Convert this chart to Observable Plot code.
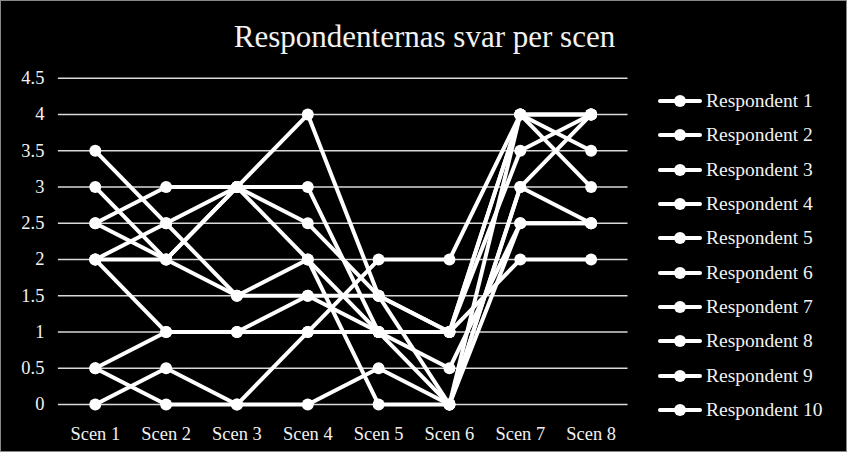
<!DOCTYPE html>
<html>
<head>
<meta charset="utf-8">
<script src="https://cdn.jsdelivr.net/npm/d3@7"></script>
<script src="https://cdn.jsdelivr.net/npm/@observablehq/plot@0.6"></script>
<style>
  html, body { margin: 0; padding: 0; background: #000; }
  #wrap { position: relative; width: 847px; height: 452px; background: #000; box-sizing: border-box; border: 1px solid #888; overflow: hidden; font-family: "Liberation Serif", "DejaVu Serif", serif; color: #fff; }
  #title { position: absolute; left: 0; width: 847px; top: 18px; text-align: center; font-size: 31px; color: #f2f2f2; }
  #legend { position: absolute; left: 657px; top: 83px; }
  .item { height: 34.3px; display: flex; align-items: center; font-size: 19.5px; color: #f2f2f2; }
  .item svg { margin-right: 4px; }
  #chart { position: absolute; left: 0; top: 0; }
</style>
</head>
<body>
<div id="wrap">
  <div id="chart"></div>
  <div id="title">Respondenternas svar per scen</div>
  <div id="legend"></div>
</div>
<script>
const scenes = ["Scen 1", "Scen 2", "Scen 3", "Scen 4", "Scen 5", "Scen 6", "Scen 7", "Scen 8"];
const respondents = ["Respondent 1", "Respondent 2", "Respondent 3", "Respondent 4", "Respondent 5",
                     "Respondent 6", "Respondent 7", "Respondent 8", "Respondent 9", "Respondent 10"];
const yTicks = [0, 0.5, 1, 1.5, 2, 2.5, 3, 3.5, 4, 4.5];

const r1  = [3.5, 2.5, 1.5, 2,   1,   0.5, 2.5, 2.5];
const r2  = [3,   2,   3,   2.5, 1.5, 1,   4,   4  ];
const r3  = [2.5, 3,   3,   4,   1.5, 0,   3,   4  ];
const r4  = [2.5, 2,   1.5, 1.5, 1.5, 1,   3.5, 4  ];
const r5  = [2,   2.5, 3,   3,   1,   0,   3,   2.5];
const r6  = [2,   1,   1,   1.5, 1,   1,   2,   2  ];
const r7  = [2,   2,   3,   2,   0,   0,   2.5, 2.5];
const r8  = [0.5, 1,   1,   1,   2,   2,   4,   4  ];
const r9  = [0.5, 0,   0,   1,   1,   1,   4,   3.5];
const r10 = [0,   0.5, 0,   0,   0.5, 0,   4,   3  ];
const series = [r1, r2, r3, r4, r5, r6, r7, r8, r9, r10];

const data = [];
series.forEach((vals, i) => vals.forEach((v, j) => data.push({respondent: respondents[i], scene: scenes[j], value: v})));

const chart = Plot.plot({
  width: 847,
  height: 452,
  marginTop: 77,
  marginBottom: 48,
  marginLeft: 57,
  marginRight: 219,
  style: { background: "transparent", color: "#f2f2f2", fontFamily: "'Liberation Serif', 'DejaVu Serif', serif", fontSize: "18.5px" },
  x: { type: "point", domain: scenes, padding: 0.5, label: null, tickSize: 0, tickPadding: 22 },
  y: { domain: [0, 4.5], ticks: yTicks, tickFormat: d => String(d), label: null, tickSize: 0, tickPadding: 14 },
  marks: [
    Plot.ruleY(yTicks, { stroke: "#d9d9d9", strokeWidth: 1.6 }),
    Plot.line(data, { x: "scene", y: "value", z: "respondent", stroke: "#ffffff", strokeWidth: 4, strokeLinejoin: "round" }),
    Plot.dot(data, { x: "scene", y: "value", r: 6, fill: "#ffffff", stroke: "none" })
  ]
});
document.getElementById("chart").appendChild(chart);

const legend = document.getElementById("legend");
respondents.forEach(name => {
  const div = document.createElement("div");
  div.className = "item";
  div.innerHTML = `<svg width="44" height="14"><line x1="2" y1="7" x2="42" y2="7" stroke="#fff" stroke-width="4" stroke-linecap="round"/><circle cx="22" cy="7" r="6" fill="#fff"/></svg><span>${name}</span>`;
  legend.appendChild(div);
});
</script>
</body>
</html>
